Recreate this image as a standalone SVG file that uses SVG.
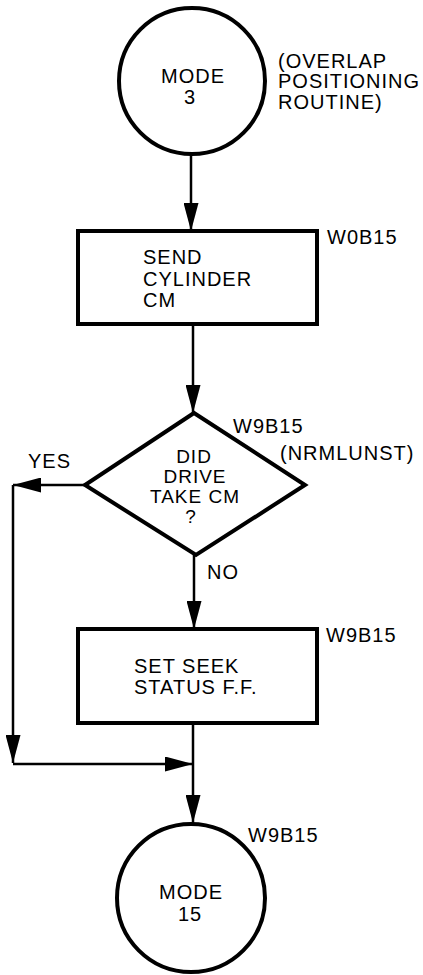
<svg xmlns="http://www.w3.org/2000/svg" width="423" height="975" viewBox="0 0 423 975">
<style>
  .shape{fill:#fff;stroke:#000;stroke-width:4}
  .conn{fill:none;stroke:#000;stroke-width:2.5}
  text{font-family:"Liberation Sans",Arial,sans-serif;font-size:20px;letter-spacing:1px;fill:#000}
  .c{text-anchor:middle}
  .d{font-size:19px}
</style>
<defs>
  <marker id="arr" markerUnits="userSpaceOnUse" markerWidth="28" markerHeight="15" refX="28" refY="7.5" orient="auto">
    <path d="M0,0 L28,7.5 L0,15 z" fill="#000"/>
  </marker>
</defs>
<rect width="423" height="975" fill="#fff"/>
<g id="connectors">
  <path class="conn" d="M191,155 L191,231" marker-end="url(#arr)"/>
  <path class="conn" d="M193,324 L193,413" marker-end="url(#arr)"/>
  <path class="conn" d="M85,485 L13,485" marker-end="url(#arr)"/>
  <path class="conn" d="M13,485 L13,763" marker-end="url(#arr)"/>
  <path class="conn" d="M13,764 L193,764" marker-end="url(#arr)"/>
  <path class="conn" d="M194,555 L194,629" marker-end="url(#arr)"/>
  <path class="conn" d="M193,723 L193,823" marker-end="url(#arr)"/>
</g>
<g id="mode3">
  <circle class="shape" cx="192" cy="81" r="73"/>
  <text class="c" x="193" y="83">MODE</text>
  <text class="c" x="190" y="104">3</text>
  <text x="278" y="68">(OVERLAP</text>
  <text x="278" y="88">POSITIONING</text>
  <text x="278" y="109">ROUTINE)</text>
</g>
<g id="send">
  <rect class="shape" x="78" y="231" width="239" height="93"/>
  <text x="143" y="264">SEND</text>
  <text x="143" y="286">CYLINDER</text>
  <text x="143" y="307">CM</text>
  <text x="327" y="244">W0B15</text>
</g>
<g id="decision">
  <path class="shape" d="M194,413 L305,485 L196,555 L85,485 Z"/>
  <text class="c d" x="194" y="463">DID</text>
  <text class="c d" x="195" y="483">DRIVE</text>
  <text class="c d" x="195" y="503">TAKE CM</text>
  <text class="c d" x="191" y="523">?</text>
  <text x="233" y="433">W9B15</text>
  <text x="280" y="460">(NRMLUNST)</text>
  <text x="28" y="468">YES</text>
  <text x="207" y="579">NO</text>
</g>
<g id="setseek">
  <rect class="shape" x="78" y="629" width="239" height="94"/>
  <text x="134" y="673">SET SEEK</text>
  <text x="134" y="694">STATUS F.F.</text>
  <text x="326" y="642">W9B15</text>
</g>
<g id="mode15">
  <circle class="shape" cx="191" cy="898" r="74"/>
  <text class="c" x="191" y="899">MODE</text>
  <text class="c" x="190" y="921">15</text>
  <text x="248" y="842">W9B15</text>
</g>
</svg>
